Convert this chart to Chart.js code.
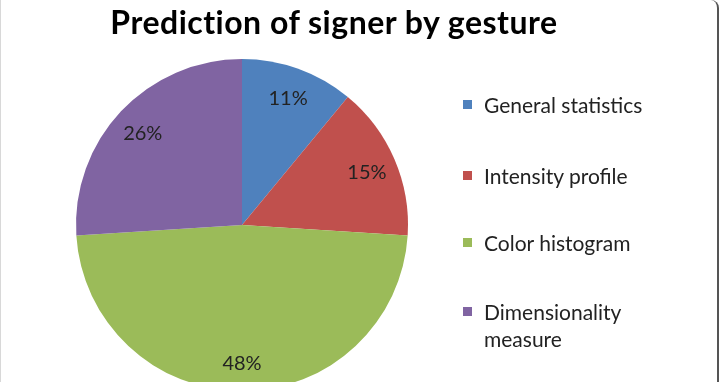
<!DOCTYPE html>
<html>
<head>
<meta charset="utf-8">
<script src="https://cdn.jsdelivr.net/npm/chart.js@4/dist/chart.umd.min.js"></script>
<style>
  html, body { margin: 0; padding: 0; background: #fff; }
  body { width: 719px; height: 382px; overflow: hidden; position: relative; }
  #frame { position: absolute; left: 0; top: 0; width: 716px; height: 390px;
           border-left: 1px solid #d8d8d8; border-right: 2px solid #555; border-top-right-radius: 8px; }
  #title { position: absolute; left: 0; top: 2px; width: 668px; text-align: center;
           font-family: Lato, "Open Sans", sans-serif; font-weight: bold; font-size: 32px;
           letter-spacing: 0.5px; line-height: 40px; color: #000; white-space: nowrap; }
  #wrap { position: absolute; left: 0; top: 0; width: 666px; height: 400px; }
  #legend { position: absolute; left: 463px; top: 0; font-family: Lato, "Open Sans", sans-serif;
            font-size: 21px; color: #222; }
  .item { position: absolute; left: 0; white-space: nowrap; }
  .box { position: absolute; left: 0; width: 9px; height: 9px; }
  .txt { position: absolute; left: 21px; line-height: 27px; }
</style>
</head>
<body>
<div id="frame"></div>
<div id="wrap"><canvas id="chart"></canvas></div>
<div id="title"></div>
<div id="legend"></div>
<script>
// --- Datos ---
const titleText = "Prediction of signer by gesture";
const labels = ["General statistics", "Intensity profile", "Color histogram", ["Dimensionality", "measure"]];
const values = [11, 15, 48, 26];
const colors = ["#4F81BD", "#C0504D", "#9BBB59", "#8064A2"];

// --- Etiquetas de porcentaje sobre cada sector ---
const sliceLabels = {
  id: "sliceLabels",
  afterDatasetsDraw(chart) {
    const { ctx } = chart;
    const meta = chart.getDatasetMeta(0);
    const total = values.reduce((a, b) => a + b, 0);
    ctx.save();
    ctx.font = "20px Lato, 'Open Sans', sans-serif";
    ctx.fillStyle = "#222";
    ctx.textAlign = "center";
    ctx.textBaseline = "middle";
    meta.data.forEach((arc, i) => {
      const p = arc.getProps(["x", "y", "startAngle", "endAngle", "outerRadius"], true);
      const mid = (p.startAngle + p.endAngle) / 2;
      const r = p.outerRadius * 0.82;
      const pct = Math.round(values[i] / total * 100) + "%";
      ctx.fillText(pct, p.x + Math.cos(mid) * r, p.y + Math.sin(mid) * r + 2);
    });
    ctx.restore();
  }
};

// --- Leyenda ---
const legendY = [105, 176, 243, 312];
function buildLegend() {
  const el = document.getElementById("legend");
  labels.forEach((lab, i) => {
    const lines = Array.isArray(lab) ? lab : [lab];
    const item = document.createElement("div");
    item.className = "item";
    item.style.top = (legendY[i] - 5) + "px";
    item.innerHTML = `<div class="box" style="background:${colors[i]}"></div>` +
      `<div class="txt" style="top:-9px">${lines.join("<br>")}</div>`;
    el.appendChild(item);
  });
}

// --- Init ---
document.getElementById("title").textContent = titleText;
buildLegend();
new Chart(document.getElementById("chart"), {
  type: "pie",
  data: {
    labels: labels.map(l => Array.isArray(l) ? l.join(" ") : l),
    datasets: [{ data: values, backgroundColor: colors, borderWidth: 0 }]
  },
  options: {
    responsive: true,
    maintainAspectRatio: false,
    animation: false,
    layout: { padding: { left: 0, right: 182, top: 59, bottom: 9 } },
    plugins: {
      legend: { display: false },
      tooltip: { enabled: false },
      title: { display: false }
    }
  },
  plugins: [sliceLabels]
});
</script>
</body>
</html>
